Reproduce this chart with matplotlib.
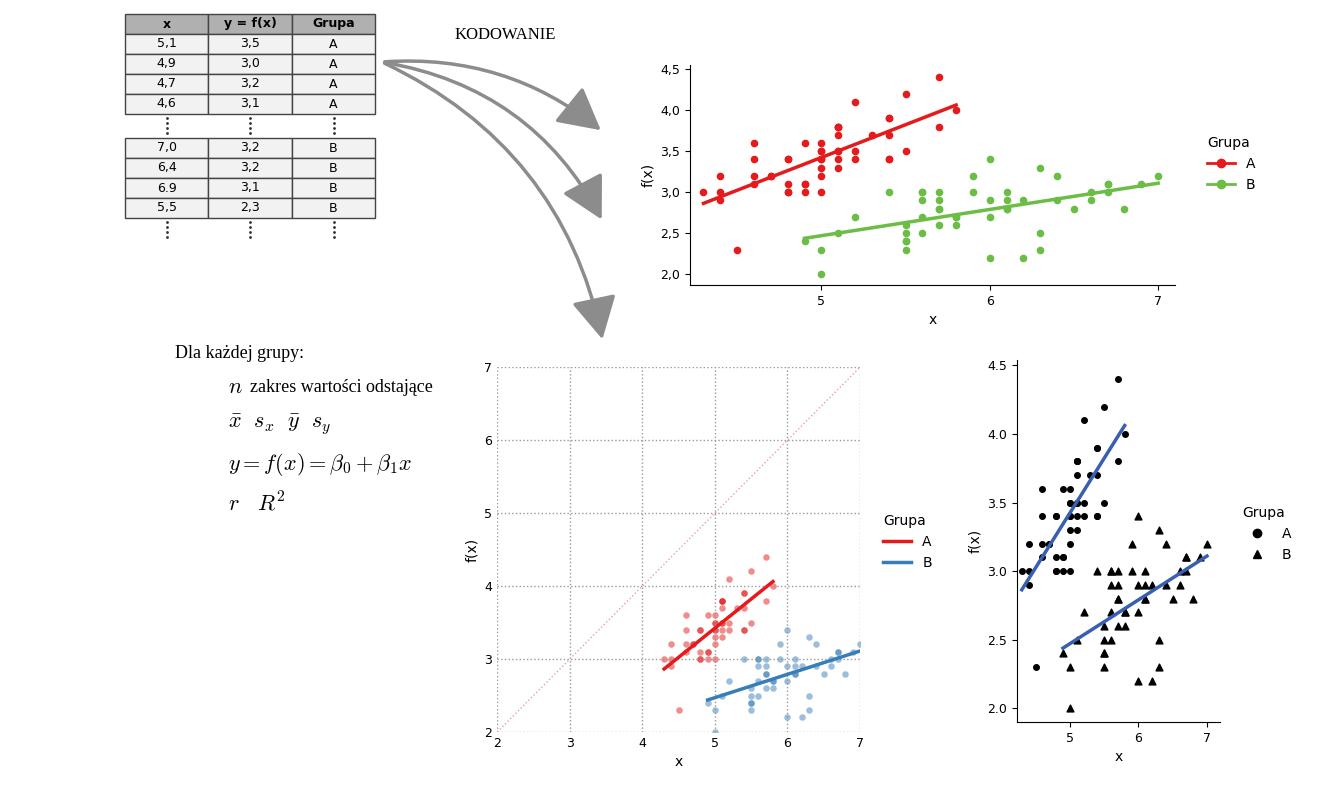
import numpy as np
import matplotlib.pyplot as plt
from matplotlib.patches import Rectangle, FancyArrowPatch
from matplotlib.lines import Line2D

plt.rcParams['mathtext.fontset'] = 'cm'

# group A
ax_A = [5.1,4.9,4.7,4.6,5.0,5.4,4.6,5.0,4.4,4.9,5.4,4.8,4.8,4.3,5.8,5.7,5.4,5.1,5.7,5.1,5.4,5.1,4.6,5.1,4.8,
        5.0,5.0,5.2,5.2,4.7,4.8,5.4,5.2,5.5,4.9,5.0,5.5,4.9,4.4,5.1,5.0,4.5,4.4,5.0,5.1,4.8,5.1,4.6,5.3,5.0]
ay_A = [3.5,3.0,3.2,3.1,3.6,3.9,3.4,3.4,2.9,3.1,3.7,3.4,3.0,3.0,4.0,4.4,3.9,3.5,3.8,3.8,3.4,3.7,3.6,3.3,3.4,
        3.0,3.4,3.5,3.4,3.2,3.1,3.4,4.1,4.2,3.1,3.2,3.5,3.6,3.0,3.4,3.5,2.3,3.2,3.5,3.8,3.0,3.8,3.2,3.7,3.3]
# group B
bx_B = [7.0,6.4,6.9,5.5,6.5,5.7,6.3,4.9,6.6,5.2,5.0,5.9,6.0,6.1,5.6,6.7,5.6,5.8,6.2,5.6,5.9,6.1,6.3,6.1,6.4,
        6.6,6.8,6.7,6.0,5.7,5.5,5.5,5.8,6.0,5.4,6.0,6.7,6.3,5.6,5.5,5.5,6.1,5.8,5.0,5.6,5.7,5.7,6.2,5.1,5.7]
by_B = [3.2,3.2,3.1,2.3,2.8,2.8,3.3,2.4,2.9,2.7,2.0,3.0,2.2,2.9,2.9,3.1,3.0,2.7,2.2,2.5,3.2,2.8,2.5,2.8,2.9,
        3.0,2.8,3.0,2.9,2.6,2.4,2.4,2.7,2.7,3.0,3.4,3.1,2.3,3.0,2.5,2.6,3.0,2.6,2.3,2.7,3.0,2.9,2.9,2.5,2.8]

table_header = ['x', 'y = f(x)', 'Grupa']
table_top = [['5,1', '3,5', 'A'], ['4,9', '3,0', 'A'], ['4,7', '3,2', 'A'], ['4,6', '3,1', 'A']]
table_bot = [['7,0', '3,2', 'B'], ['6,4', '3,2', 'B'], ['6.9', '3,1', 'B'], ['5,5', '2,3', 'B']]

fig = plt.figure(figsize=(13.19, 8), dpi=100)

# overlay in pixel coords
ov = fig.add_axes([0, 0, 1, 1], zorder=0)
ov.set_xlim(0, 1319); ov.set_ylim(800, 0); ov.axis('off')

cols = [125, 208, 292, 375]
def draw_row(y, cells, fc, bold=False):
    for i, c in enumerate(cells):
        ov.add_patch(Rectangle((cols[i], y), cols[i+1]-cols[i], 20, fc=fc, ec='#444', lw=1))
        ov.text((cols[i]+cols[i+1])/2, y+10, c, ha='center', va='center', fontsize=9,
                fontweight='bold' if bold else 'normal')

draw_row(14, table_header, '#b0b0b0', bold=True)
for k, r in enumerate(table_top):
    draw_row(34 + 20*k, r, '#f2f2f2')
for k, r in enumerate(table_bot):
    draw_row(138 + 20*k, r, '#f2f2f2')
for yy in (118, 222):
    for i in range(3):
        ov.plot([(cols[i]+cols[i+1])/2]*4, [yy+d*5 for d in range(4)], ls='none', marker='.', ms=2, color='#333')

ov.text(455, 35, 'KODOWANIE', fontsize=12, family='Liberation Serif', va='center')
for end, rad in [((603, 132), -0.2), ((603, 222), -0.25), ((603, 342), -0.25)]:
    ov.add_patch(FancyArrowPatch((382, 62), end, connectionstyle=f'arc3,rad={rad}',
                                 arrowstyle='-|>,head_length=1.3,head_width=0.7', mutation_scale=20,
                                 color='#8c8c8c', lw=2.5))

ov.text(175, 353, 'Dla każdej grupy:', fontsize=13, family='Liberation Serif', va='center')
ov.text(228, 387, r'$n$', fontsize=16, va='center')
ov.text(250, 387, 'zakres wartości odstające', fontsize=13, family='Liberation Serif', va='center')
ov.text(228, 425, r'$\bar{x}\ \ s_x\ \ \bar{y}\ \ s_y$', fontsize=16, va='center')
ov.text(228, 464, r'$y = f(x) = \beta_0 + \beta_1 x$', fontsize=16, va='center')
ov.text(228, 503, r'$r\ \ \ R^2$', fontsize=16, va='center')

def fitline(ax, x, y, color, lw=2.5):
    b1, b0 = np.polyfit(x, y, 1)
    xs = np.array([min(x), max(x)])
    ax.plot(xs, b0 + b1*xs, color=color, lw=lw, zorder=3)

def classic(ax):
    for s in ('top', 'right'):
        ax.spines[s].set_visible(False)
    ax.tick_params(labelsize=9)

red, green, blue = '#e41a1c', '#6cbd45', '#377eb8'

# top-right
a1 = fig.add_axes([690/1319, 1-285/800, 485/1319, 220/800])
a1.scatter(ax_A, ay_A, s=20, color=red)
a1.scatter(bx_B, by_B, s=20, color=green)
fitline(a1, ax_A, ay_A, red); fitline(a1, bx_B, by_B, green)
a1.set_xlim(4.22, 7.1); a1.set_ylim(1.87, 4.55)
a1.set_xticks([5, 6, 7]); a1.set_yticks([2, 2.5, 3, 3.5, 4, 4.5])
a1.set_yticklabels(['2,0', '2,5', '3,0', '3,5', '4,0', '4,5'])
a1.set_xlabel('x', fontsize=10); a1.set_ylabel('f(x)', fontsize=10)
classic(a1)
h = [Line2D([], [], color=red, marker='o', lw=2), Line2D([], [], color=green, marker='o', lw=2)]
a1.legend(h, ['A', 'B'], title='Grupa', frameon=False, loc='center left', bbox_to_anchor=(1.04, 0.55),
          alignment='left', fontsize=10)

# bottom middle
a2 = fig.add_axes([0.377, 0.085, 0.275, 0.456])
a2.plot([2, 7], [2, 7], ls=':', color='#e8a0a0', lw=1)
a2.scatter(ax_A, ay_A, s=22, color=red, alpha=0.5, lw=0)
a2.scatter(bx_B, by_B, s=22, color=blue, alpha=0.5, lw=0)
fitline(a2, ax_A, ay_A, red); fitline(a2, bx_B, by_B, blue)
a2.set_xlim(2, 7); a2.set_ylim(2, 7)
a2.grid(True, ls=':', color='#999', lw=1)
for s in a2.spines.values():
    s.set_visible(False)
a2.tick_params(labelsize=9, length=0)
a2.set_xlabel('x', fontsize=10); a2.set_ylabel('f(x)', fontsize=10)
h = [Line2D([], [], color=red, lw=2.5), Line2D([], [], color=blue, lw=2.5)]
a2.legend(h, ['A', 'B'], title='Grupa', frameon=False, loc='center left', bbox_to_anchor=(1.03, 0.52),
          alignment='left', fontsize=10)

# bottom right
a3 = fig.add_axes([1017/1319, 1-722/800, 203/1319, 362/800])
a3.scatter(ax_A, ay_A, s=16, color='black', marker='o')
a3.scatter(bx_B, by_B, s=24, color='black', marker='^')
fitline(a3, ax_A, ay_A, '#3a5fb0'); fitline(a3, bx_B, by_B, '#3a5fb0')
a3.set_xlim(4.23, 7.19); a3.set_ylim(1.9, 4.54)
a3.set_xticks([5, 6, 7]); a3.set_yticks([2, 2.5, 3, 3.5, 4, 4.5])
a3.set_yticklabels(['2.0', '2.5', '3.0', '3.5', '4.0', '4.5'])
a3.set_xlabel('x', fontsize=10); a3.set_ylabel('f(x)', fontsize=10)
classic(a3)
h = [Line2D([], [], color='black', marker='o', ls='none'), Line2D([], [], color='black', marker='^', ls='none')]
a3.legend(h, ['A', 'B'], title='Grupa', frameon=False, loc='center left', bbox_to_anchor=(1.05, 0.52),
          alignment='left', fontsize=10)

fig.savefig('out.png', dpi=100)
